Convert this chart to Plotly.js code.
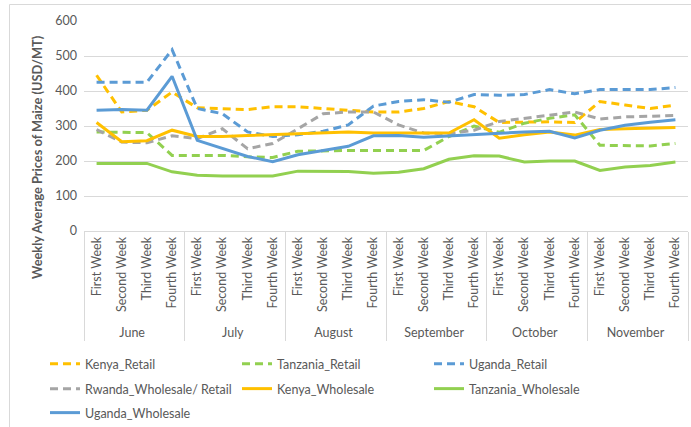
<!DOCTYPE html>
<html>
<head>
<meta charset="utf-8">
<script src="https://cdn.plot.ly/plotly-3.0.1.min.js"></script>
<style>
  html, body { margin: 0; padding: 0; background: #ffffff; }
  #chart { width: 691px; height: 427px; }
</style>
</head>
<body>
<div id="chart"></div>
<script>
// ---- Data ----
const months = ['June', 'July', 'August', 'September', 'October', 'November'];
const weeks = ['First Week', 'Second Week', 'Third Week', 'Fourth Week'];

const kenyaRetail       = [445, 340, 345, 397, 352, 350, 347, 355, 355, 350, 345, 340, 340, 350, 370, 355, 310, 312, 312, 310, 370, 360, 350, 360];
const tanzaniaRetail    = [283, 281, 281, 216, 216, 216, 212, 210, 228, 230, 230, 230, 230, 230, 270, 300, 282, 308, 322, 332, 245, 243, 243, 250];
const ugandaRetail      = [425, 425, 425, 518, 350, 335, 283, 270, 275, 285, 303, 357, 370, 375, 368, 390, 388, 390, 404, 392, 404, 404, 404, 410];
const rwandaWholesale   = [290, 254, 252, 272, 264, 292, 235, 250, 292, 335, 340, 340, 303, 280, 278, 288, 313, 322, 330, 340, 320, 326, 328, 330];
const kenyaWholesale    = [310, 255, 258, 288, 270, 270, 273, 275, 277, 280, 283, 280, 280, 278, 280, 318, 265, 275, 283, 274, 290, 292, 294, 296];
const tanzaniaWholesale = [193, 193, 193, 169, 159, 157, 157, 157, 171, 171, 170, 165, 168, 178, 205, 215, 214, 197, 200, 200, 173, 183, 187, 197];
const ugandaWholesale   = [345, 347, 345, 442, 259, 235, 213, 198, 218, 230, 242, 272, 273, 268, 272, 277, 280, 283, 285, 266, 288, 302, 311, 318];

const seriesNames = ['Kenya_Retail', 'Tanzania_Retail', 'Uganda_Retail', 'Rwanda_Wholesale/ Retail',
                     'Kenya_Wholesale', 'Tanzania_Wholesale', 'Uganda_Wholesale'];

// ---- Styling ----
const C = { yellow: '#FFC000', green: '#92D050', blue: '#5B9BD5', gray: '#A5A5A5' };
const FONT = 'Lato, "Liberation Sans", Arial, sans-serif';
const TXT = '#595959';
const W = 691, H = 427;
const M = { l: 84, r: 3, t: 21, b: 196 };
const PW = W - M.l - M.r, PH = H - M.t - M.b;
const px2x = p => (p - M.l) / PW;
const px2y = p => (H - M.b - p) / PH;

// multicategory x values built from month/week arrays
const xMonth = [], xWeek = [];
months.forEach(m => weeks.forEach(w => { xMonth.push(m); xWeek.push(w); }));
const X = [xMonth, xWeek];
const nCat = xMonth.length;

const DASH = '8px,5px';
function tr(name, y, color, dashed, legend) {
  return {
    type: 'scatter', mode: 'lines', name: name, x: X, y: y,
    line: { color: color, width: 3, dash: dashed ? DASH : 'solid' },
    legend: legend, hoverinfo: 'skip'
  };
}

const data = [
  tr(seriesNames[0], kenyaRetail, C.yellow, true, 'legend'),
  tr(seriesNames[1], tanzaniaRetail, C.green, true, 'legend'),
  tr(seriesNames[2], ugandaRetail, C.blue, true, 'legend'),
  tr(seriesNames[3], rwandaWholesale, C.gray, true, 'legend2'),
  tr(seriesNames[4], kenyaWholesale, C.yellow, false, 'legend2'),
  tr(seriesNames[5], tanzaniaWholesale, C.green, false, 'legend2'),
  tr(seriesNames[6], ugandaWholesale, C.blue, false, 'legend3')
];

function legendAt(yPx) {
  return {
    orientation: 'h', xref: 'container', yref: 'container',
    x: 45 / W, y: 1 - yPx / H, xanchor: 'left', yanchor: 'middle',
    entrywidth: 147, entrywidthmode: 'pixels', itemwidth: 30,
    font: { family: FONT, size: 12.5, color: TXT },
    bgcolor: 'rgba(0,0,0,0)', borderwidth: 0, tracegroupgap: 0
  };
}

const layout = {
  width: W, height: H,
  margin: M,
  paper_bgcolor: '#ffffff', plot_bgcolor: '#ffffff',
  font: { family: FONT, size: 12.5, color: TXT },
  showlegend: true,
  xaxis: {
    type: 'multicategory',
    range: [-0.5, nCat - 0.5],
    tickangle: -90,
    showdividers: true, dividercolor: '#d9d9d9', dividerwidth: 1,
    showline: true, linecolor: '#d9d9d9', linewidth: 1,
    showgrid: false, ticks: '', zeroline: false,
    tickfont: { family: FONT, size: 12.5, color: TXT }
  },
  yaxis: {
    range: [0, 600], dtick: 100, tick0: 0,
    showgrid: true, gridcolor: '#d9d9d9', gridwidth: 1,
    zeroline: false, showline: false, ticks: '',
    ticklabelstandoff: 6,
    tickfont: { family: FONT, size: 12.5, color: TXT }
  },
  legend: legendAt(364),
  legend2: legendAt(389),
  legend3: legendAt(413),
  annotations: [{
    text: '<b>Weekly Average Prices of Maize (USD/MT)</b>',
    xref: 'paper', yref: 'paper', x: px2x(37), y: px2y(157),
    textangle: -90, showarrow: false, xanchor: 'center', yanchor: 'middle',
    font: { family: FONT, size: 12.8, color: TXT }
  }],
  shapes: [{
    type: 'rect', xref: 'paper', yref: 'paper',
    x0: px2x(9.5), x1: px2x(720), y0: px2y(4.5), y1: px2y(460),
    line: { color: '#d9d9d9', width: 1 }, fillcolor: 'rgba(0,0,0,0)', layer: 'below'
  }]
};

Plotly.newPlot('chart', data, layout, { displayModeBar: false, staticPlot: true });
</script>
</body>
</html>
